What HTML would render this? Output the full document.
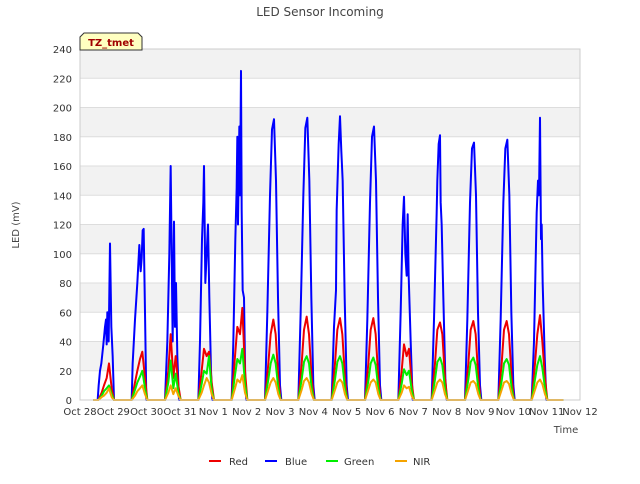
<!DOCTYPE html>
<html><head><meta charset="utf-8"><style>
body{margin:0;background:#fff;font-family:"DejaVu Sans","Liberation Sans",sans-serif}
</style></head><body>
<svg id="c" width="640" height="480" xmlns="http://www.w3.org/2000/svg" font-family="DejaVu Sans, Liberation Sans, sans-serif">
<text x="320" y="16" text-anchor="middle" font-size="12" fill="#444">LED Sensor Incoming</text>
<text transform="translate(19,225) rotate(-90)" text-anchor="middle" font-size="10" fill="#444">LED (mV)</text>
<text x="566" y="433" text-anchor="middle" font-size="10" fill="#444">Time</text>
<g id="bands"></g><g id="grid"></g><g id="series"></g><g id="axes"></g>
<g>
<path d="M80,50 L80,37 L84,33 L138,33 L142,37 L142,50 Z" fill="#ffffc0" stroke="#333" stroke-width="1"/>
<text x="111" y="46" text-anchor="middle" font-size="10" font-weight="bold" fill="#a00000">TZ_tmet</text>
</g>
<g font-size="10" fill="#333">
<g><line x1="209" y1="461" x2="221" y2="461" stroke="#e00" stroke-width="2"/><text x="229" y="465">Red</text></g>
<g><line x1="265" y1="461" x2="277" y2="461" stroke="#00f" stroke-width="2"/><text x="285" y="465">Blue</text></g>
<g><line x1="326" y1="461" x2="338" y2="461" stroke="#0e0" stroke-width="2"/><text x="344" y="465">Green</text></g>
<g><line x1="395" y1="461" x2="407" y2="461" stroke="#f5a300" stroke-width="2"/><text x="413" y="465">NIR</text></g>
</g>
</svg>
<script>
const xLabels=["Oct 28","Oct 29","Oct 30","Oct 31","Nov 1","Nov 2","Nov 3","Nov 4","Nov 5","Nov 6","Nov 7","Nov 8","Nov 9","Nov 10","Nov 11","Nov 12"];
const yTicks=[0,20,40,60,80,100,120,140,160,180,200,220,240];
const offsets=[0.55,0.65,0.72,0.8,0.87,0.95,1.02];
const redV=[[0,5,10,15,25,8,0],[0,12,20,28,33,15,0],[0,20,45,15,30,10,0],[0,20,35,30,33,12,0],[0,30,50,45,63,20,0],[0,25,45,55,45,15,0],[0,25,48,57,45,15,0],[0,25,48,56,45,15,0],[0,25,48,56,45,15,0],[0,20,38,30,35,12,0],[0,25,48,53,45,15,0],[0,25,48,54,45,15,0],[0,25,48,54,45,15,0],[0,25,45,58,40,15,0]];
const greenV=[[0,3,6,8,10,4,0],[0,7,12,16,20,8,0],[0,12,27,8,18,5,0],[0,11,20,18,30,7,0],[0,17,28,25,35,11,0],[0,14,25,31,25,8,0],[0,14,26,30,25,8,0],[0,14,26,30,25,8,0],[0,13,25,29,24,8,0],[0,11,21,17,20,7,0],[0,14,26,29,24,8,0],[0,14,26,29,24,8,0],[0,13,25,28,24,8,0],[0,14,24,30,22,8,0]];
const nirV=[[0,2,3,5,8,2,0],[0,3,6,8,10,4,0],[0,5,10,4,8,3,0],[0,5,10,15,12,4,0],[0,8,14,12,17,5,0],[0,7,12,15,12,4,0],[0,7,13,15,12,4,0],[0,7,12,14,12,4,0],[0,7,12,14,12,4,0],[0,5,10,8,9,3,0],[0,7,12,14,12,4,0],[0,7,12,13,11,4,0],[0,7,12,13,11,4,0],[0,7,12,14,11,4,0]];
const blueT=[0.53,0.56,0.6,0.64,0.7,0.75,0.78,0.8,0.82,0.86,0.9,0.94,0.98,1.02,
1.55,1.58,1.65,1.72,1.78,1.82,1.85,1.88,1.91,1.95,1.99,
2.55,2.62,2.68,2.72,2.76,2.78,2.82,2.85,2.88,2.92,2.97,
3.55,3.6,3.66,3.7,3.72,3.76,3.8,3.84,3.88,3.93,3.97,
4.55,4.6,4.66,4.7,4.72,4.74,4.78,4.8,4.83,4.85,4.88,4.92,4.96,4.99,
5.55,5.62,5.7,5.76,5.82,5.88,5.94,6.0,6.04,
6.55,6.62,6.7,6.76,6.82,6.88,6.94,7.0,7.04,
7.55,7.62,7.68,7.7,7.76,7.8,7.84,7.88,7.94,8.0,8.04,
8.55,8.62,8.7,8.76,8.82,8.88,8.94,9.0,9.04,
9.55,9.62,9.68,9.72,9.76,9.8,9.83,9.86,9.92,9.98,
10.55,10.62,10.7,10.72,10.76,10.8,10.82,10.85,10.9,10.96,11.0,
11.55,11.62,11.7,11.76,11.82,11.88,11.94,12.0,12.04,
12.55,12.62,12.7,12.76,12.82,12.88,12.94,13.0,13.04,
13.55,13.62,13.7,13.74,13.77,13.8,13.83,13.85,13.88,13.94,13.99];
const blueV=[0,10,20,25,38,50,55,38,60,40,107,50,30,0,
0,25,55,80,106,88,97,116,117,60,0,
0,40,100,160,80,40,122,50,80,30,0,
0,40,110,135,160,80,100,120,70,20,0,
0,40,110,145,180,120,187,140,225,130,75,70,10,0,
0,60,140,185,192,150,70,10,0,
0,60,140,186,193,150,70,10,0,
0,50,75,130,175,194,170,150,70,10,0,
0,55,135,180,187,150,70,10,0,
0,60,120,139,100,85,127,85,40,0,
0,55,128,150,175,181,135,120,70,15,0,
0,55,135,172,176,140,60,10,0,
0,55,135,172,178,140,60,10,0,
0,40,128,150,140,193,110,120,80,30,0];
const X0=80,X1=580,Y0=400,Y1=49;
const xs=d=>X0+d*(X1-X0)/15, ys=v=>Y0-v*(Y0-Y1)/240;
const NS="http://www.w3.org/2000/svg";
function mk(tag,attrs,parent){const e=document.createElementNS(NS,tag);for(const k in attrs)e.setAttribute(k,attrs[k]);parent.appendChild(e);return e;}
const bands=document.getElementById('bands'),grid=document.getElementById('grid'),axes=document.getElementById('axes'),ser=document.getElementById('series');
mk('rect',{x:X0,y:Y1,width:X1-X0,height:Y0-Y1,fill:'#fff'},bands);
for(let i=0;i<yTicks.length-1;i++){if(i%2===1){const r=mk('rect',{x:X0,y:ys(yTicks[i+1]),width:X1-X0,height:ys(yTicks[i])-ys(yTicks[i+1]),fill:'#f2f2f2'},bands);

}}
yTicks.forEach(v=>{const l=mk('line',{x1:X0,x2:X1,y1:ys(v),y2:ys(v),stroke:'#ddd','stroke-width':1},grid);


const t=mk('text',{x:X0-8,y:ys(v)+4,'text-anchor':'end','font-size':10,fill:'#333'},axes);t.textContent=v;

});
mk('rect',{x:X0,y:Y1,width:X1-X0,height:Y0-Y1,fill:'none',stroke:'#ccc'},axes);
xLabels.forEach((s,i)=>{const t=mk('text',{x:xs(i),y:Y0+15,'text-anchor':'middle','font-size':10,fill:'#333'},axes);t.textContent=s;

});
function drawDaily(vals,color,name){let pts=[[0.4,0]];vals.forEach((arr,d)=>arr.forEach((v,j)=>pts.push([d+offsets[j],v])));pts.push([14.5,0]);
const p=mk('polyline',{points:pts.map(q=>xs(q[0])+','+ys(q[1])).join(' '),fill:'none',stroke:color,'stroke-width':2,'stroke-linejoin':'round'},ser);

}
let bp=[[0.4,0]];blueT.forEach((t,i)=>bp.push([t,blueV[i]]));bp.push([14.5,0]);
const bl=mk('polyline',{points:bp.map(q=>xs(q[0])+','+ys(q[1])).join(' '),fill:'none',stroke:'#00f','stroke-width':2,'stroke-linejoin':'round'},ser);


drawDaily(redV,'#e00','red-series');
drawDaily(greenV,'#0e0','green-series');
drawDaily(nirV,'#f5a300','nir-series');
</script>
</body></html>
